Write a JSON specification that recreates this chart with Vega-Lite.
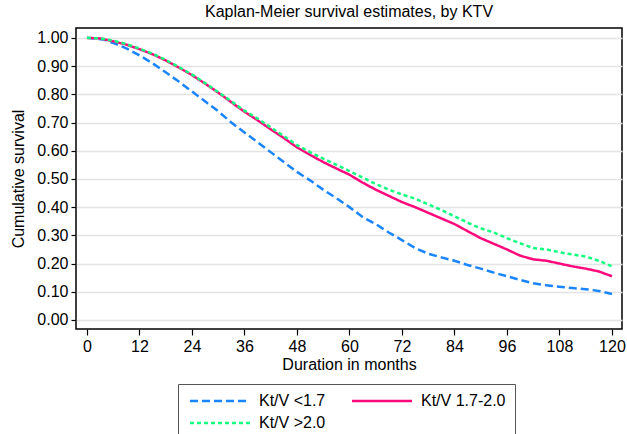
{
  "$schema": "https://vega.github.io/schema/vega-lite/v6.json",
  "width": 546,
  "height": 301,
  "autosize": {"type": "none"},
  "padding": {"left": 76, "top": 28, "right": 5, "bottom": 105},
  "background": "white",
  "title": {"text": "Kaplan-Meier survival estimates, by KTV", "fontSize": 16, "font": "Liberation Sans", "fontWeight": "normal", "color": "black", "anchor": "middle", "offset": 8},
  "config": {
    "font": "Liberation Sans",
    "view": {"stroke": "black", "strokeWidth": 1.5},
    "axis": {"labelFont": "Liberation Sans", "titleFont": "Liberation Sans", "labelFontSize": 16, "titleFontSize": 16, "labelColor": "black", "titleColor": "black", "titleFontWeight": "normal", "tickColor": "black", "tickWidth": 1.2, "domain": false},
    "legend": {"title": null, "orient": "none", "legendX": 102, "legendY": 356, "columns": 2, "direction": "horizontal", "symbolType": "M-1,0H11", "symbolSize": 100, "symbolStrokeWidth": 2.5, "labelFontSize": 16, "labelColor": "black", "labelFont": "Liberation Sans", "labelOffset": 56, "columnPadding": 21, "rowPadding": 6, "padding": 9, "strokeColor": "#555555", "fillColor": "white"}
  },
  "data": {"values": [
    {"g":"Kt/V <1.7","t":0,"s":1.0},{"g":"Kt/V <1.7","t":2,"s":0.998},{"g":"Kt/V <1.7","t":4,"s":0.993},{"g":"Kt/V <1.7","t":6,"s":0.982},{"g":"Kt/V <1.7","t":9,"s":0.963},{"g":"Kt/V <1.7","t":12,"s":0.938},{"g":"Kt/V <1.7","t":15,"s":0.91},{"g":"Kt/V <1.7","t":18,"s":0.878},{"g":"Kt/V <1.7","t":21,"s":0.845},{"g":"Kt/V <1.7","t":24,"s":0.81},{"g":"Kt/V <1.7","t":27,"s":0.775},{"g":"Kt/V <1.7","t":30,"s":0.74},{"g":"Kt/V <1.7","t":33,"s":0.70},{"g":"Kt/V <1.7","t":36,"s":0.665},{"g":"Kt/V <1.7","t":39,"s":0.63},{"g":"Kt/V <1.7","t":42,"s":0.595},{"g":"Kt/V <1.7","t":45,"s":0.56},{"g":"Kt/V <1.7","t":48,"s":0.525},{"g":"Kt/V <1.7","t":51,"s":0.495},{"g":"Kt/V <1.7","t":54,"s":0.462},{"g":"Kt/V <1.7","t":57,"s":0.432},{"g":"Kt/V <1.7","t":60,"s":0.40},{"g":"Kt/V <1.7","t":63,"s":0.365},{"g":"Kt/V <1.7","t":66,"s":0.34},{"g":"Kt/V <1.7","t":69,"s":0.31},{"g":"Kt/V <1.7","t":72,"s":0.283},{"g":"Kt/V <1.7","t":75,"s":0.255},{"g":"Kt/V <1.7","t":78,"s":0.235},{"g":"Kt/V <1.7","t":81,"s":0.222},{"g":"Kt/V <1.7","t":84,"s":0.21},{"g":"Kt/V <1.7","t":87,"s":0.195},{"g":"Kt/V <1.7","t":90,"s":0.182},{"g":"Kt/V <1.7","t":93,"s":0.168},{"g":"Kt/V <1.7","t":96,"s":0.155},{"g":"Kt/V <1.7","t":99,"s":0.142},{"g":"Kt/V <1.7","t":102,"s":0.13},{"g":"Kt/V <1.7","t":105,"s":0.123},{"g":"Kt/V <1.7","t":108,"s":0.118},{"g":"Kt/V <1.7","t":111,"s":0.113},{"g":"Kt/V <1.7","t":114,"s":0.109},{"g":"Kt/V <1.7","t":117,"s":0.103},{"g":"Kt/V <1.7","t":120,"s":0.092},
    {"g":"Kt/V 1.7-2.0","t":0,"s":1.0},{"g":"Kt/V 1.7-2.0","t":3,"s":0.998},{"g":"Kt/V 1.7-2.0","t":6,"s":0.988},{"g":"Kt/V 1.7-2.0","t":9,"s":0.976},{"g":"Kt/V 1.7-2.0","t":12,"s":0.96},{"g":"Kt/V 1.7-2.0","t":15,"s":0.942},{"g":"Kt/V 1.7-2.0","t":18,"s":0.92},{"g":"Kt/V 1.7-2.0","t":21,"s":0.895},{"g":"Kt/V 1.7-2.0","t":24,"s":0.868},{"g":"Kt/V 1.7-2.0","t":27,"s":0.838},{"g":"Kt/V 1.7-2.0","t":30,"s":0.806},{"g":"Kt/V 1.7-2.0","t":33,"s":0.772},{"g":"Kt/V 1.7-2.0","t":36,"s":0.738},{"g":"Kt/V 1.7-2.0","t":39,"s":0.708},{"g":"Kt/V 1.7-2.0","t":42,"s":0.676},{"g":"Kt/V 1.7-2.0","t":45,"s":0.645},{"g":"Kt/V 1.7-2.0","t":48,"s":0.612},{"g":"Kt/V 1.7-2.0","t":51,"s":0.585},{"g":"Kt/V 1.7-2.0","t":54,"s":0.56},{"g":"Kt/V 1.7-2.0","t":57,"s":0.537},{"g":"Kt/V 1.7-2.0","t":60,"s":0.515},{"g":"Kt/V 1.7-2.0","t":63,"s":0.487},{"g":"Kt/V 1.7-2.0","t":66,"s":0.462},{"g":"Kt/V 1.7-2.0","t":69,"s":0.44},{"g":"Kt/V 1.7-2.0","t":72,"s":0.418},{"g":"Kt/V 1.7-2.0","t":75,"s":0.40},{"g":"Kt/V 1.7-2.0","t":78,"s":0.38},{"g":"Kt/V 1.7-2.0","t":81,"s":0.36},{"g":"Kt/V 1.7-2.0","t":84,"s":0.34},{"g":"Kt/V 1.7-2.0","t":87,"s":0.315},{"g":"Kt/V 1.7-2.0","t":90,"s":0.29},{"g":"Kt/V 1.7-2.0","t":93,"s":0.27},{"g":"Kt/V 1.7-2.0","t":96,"s":0.25},{"g":"Kt/V 1.7-2.0","t":99,"s":0.228},{"g":"Kt/V 1.7-2.0","t":102,"s":0.215},{"g":"Kt/V 1.7-2.0","t":105,"s":0.21},{"g":"Kt/V 1.7-2.0","t":108,"s":0.2},{"g":"Kt/V 1.7-2.0","t":111,"s":0.19},{"g":"Kt/V 1.7-2.0","t":114,"s":0.182},{"g":"Kt/V 1.7-2.0","t":117,"s":0.172},{"g":"Kt/V 1.7-2.0","t":120,"s":0.155},
    {"g":"Kt/V >2.0","t":0,"s":1.0},{"g":"Kt/V >2.0","t":3,"s":0.998},{"g":"Kt/V >2.0","t":6,"s":0.99},{"g":"Kt/V >2.0","t":9,"s":0.978},{"g":"Kt/V >2.0","t":12,"s":0.962},{"g":"Kt/V >2.0","t":15,"s":0.944},{"g":"Kt/V >2.0","t":18,"s":0.922},{"g":"Kt/V >2.0","t":21,"s":0.897},{"g":"Kt/V >2.0","t":24,"s":0.87},{"g":"Kt/V >2.0","t":27,"s":0.84},{"g":"Kt/V >2.0","t":30,"s":0.808},{"g":"Kt/V >2.0","t":33,"s":0.775},{"g":"Kt/V >2.0","t":36,"s":0.742},{"g":"Kt/V >2.0","t":39,"s":0.714},{"g":"Kt/V >2.0","t":42,"s":0.683},{"g":"Kt/V >2.0","t":45,"s":0.652},{"g":"Kt/V >2.0","t":48,"s":0.62},{"g":"Kt/V >2.0","t":51,"s":0.595},{"g":"Kt/V >2.0","t":54,"s":0.572},{"g":"Kt/V >2.0","t":57,"s":0.55},{"g":"Kt/V >2.0","t":60,"s":0.528},{"g":"Kt/V >2.0","t":63,"s":0.505},{"g":"Kt/V >2.0","t":66,"s":0.482},{"g":"Kt/V >2.0","t":69,"s":0.462},{"g":"Kt/V >2.0","t":72,"s":0.445},{"g":"Kt/V >2.0","t":75,"s":0.43},{"g":"Kt/V >2.0","t":78,"s":0.41},{"g":"Kt/V >2.0","t":81,"s":0.39},{"g":"Kt/V >2.0","t":84,"s":0.368},{"g":"Kt/V >2.0","t":87,"s":0.345},{"g":"Kt/V >2.0","t":90,"s":0.325},{"g":"Kt/V >2.0","t":93,"s":0.31},{"g":"Kt/V >2.0","t":96,"s":0.29},{"g":"Kt/V >2.0","t":99,"s":0.272},{"g":"Kt/V >2.0","t":102,"s":0.255},{"g":"Kt/V >2.0","t":105,"s":0.25},{"g":"Kt/V >2.0","t":108,"s":0.24},{"g":"Kt/V >2.0","t":111,"s":0.232},{"g":"Kt/V >2.0","t":114,"s":0.225},{"g":"Kt/V >2.0","t":117,"s":0.21},{"g":"Kt/V >2.0","t":120,"s":0.19}
  ]},
  "mark": {"type": "line", "strokeWidth": 2.5, "clip": true},
  "encoding": {
    "x": {"field": "t", "type": "quantitative", "scale": {"domain": [-2.5, 122.3], "nice": false, "zero": false},
      "axis": {"values": [0,12,24,36,48,60,72,84,96,108,120], "title": "Duration in months", "grid": false, "tickSize": 6, "labelPadding": 3, "titlePadding": 2, "labelOverlap": false, "labelBound": false, "labelFlush": false}},
    "y": {"field": "s", "type": "quantitative", "scale": {"domain": [-0.032, 1.035], "nice": false, "zero": false},
      "axis": {"values": [0,0.1,0.2,0.3,0.4,0.5,0.6,0.7,0.8,0.9,1.0], "format": ".2f", "title": "Cumulative survival", "grid": true, "gridColor": "#e3e3e3", "gridWidth": 1.5, "tickSize": 5, "labelPadding": 3, "titlePadding": 10}},
    "color": {"field": "g", "type": "nominal",
      "scale": {"domain": ["Kt/V <1.7", "Kt/V 1.7-2.0", "Kt/V >2.0"], "range": ["#1a85ff", "#ff0a7c", "#12ff7f"]}},
    "strokeDash": {"field": "g", "type": "nominal",
      "scale": {"domain": ["Kt/V <1.7", "Kt/V 1.7-2.0", "Kt/V >2.0"], "range": [[8, 4], [1, 0], [4, 3]]}}
  }
}
